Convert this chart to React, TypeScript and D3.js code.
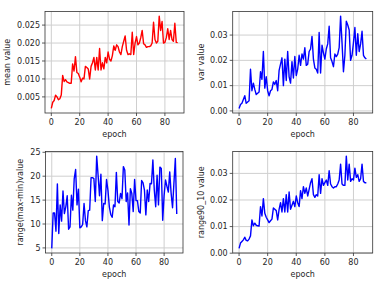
import React from 'react';
import * as d3 from 'd3';

// epochs 0..89
const epochs = d3.range(0, 90);

const meanValues = [
  0.0018, 0.0035, 0.004, 0.0055, 0.005, 0.0042, 0.0045, 0.0055, 0.011, 0.0093,
  0.0098, 0.0092, 0.009, 0.0088, 0.0088, 0.0142, 0.0122, 0.0162, 0.0118, 0.0115,
  0.0105, 0.0092, 0.0102, 0.01, 0.0135, 0.0132, 0.0128, 0.01, 0.0135, 0.0145,
  0.016, 0.0125, 0.016, 0.0125, 0.0185, 0.0125, 0.0145, 0.0128, 0.016, 0.0145,
  0.0175, 0.0155, 0.015, 0.0165, 0.0192, 0.018, 0.0195, 0.019, 0.0175, 0.0168,
  0.019, 0.0205, 0.022, 0.018, 0.0168, 0.017, 0.0168, 0.023, 0.0168, 0.02,
  0.0218, 0.0195, 0.02, 0.0215, 0.0235, 0.0198, 0.0195, 0.0188, 0.019, 0.019,
  0.0192, 0.02, 0.0258, 0.021, 0.02, 0.0205, 0.0275, 0.0235, 0.026, 0.02,
  0.0202, 0.0215, 0.024, 0.021, 0.0235, 0.021, 0.0205, 0.0255, 0.0202, 0.0201,
];

const varValues = [
  0.001, 0.0025, 0.003, 0.0045, 0.006, 0.003, 0.0035, 0.004, 0.0165, 0.008,
  0.011, 0.0085, 0.0065, 0.007, 0.0075, 0.0155, 0.0125, 0.0235, 0.009, 0.0135,
  0.008, 0.006, 0.008, 0.0085, 0.0115, 0.0105, 0.012, 0.008, 0.016, 0.0185,
  0.021, 0.01, 0.0205, 0.012, 0.0235, 0.0135, 0.011, 0.0195, 0.013, 0.0215,
  0.014, 0.0165, 0.022, 0.018, 0.0225, 0.0205, 0.025, 0.018, 0.0185, 0.0235,
  0.0245, 0.0295, 0.0205, 0.017, 0.0165, 0.015, 0.031, 0.015, 0.026, 0.023,
  0.0205, 0.0245, 0.0265, 0.0335, 0.021, 0.0195, 0.0175, 0.0225, 0.0215, 0.0225,
  0.025, 0.0375, 0.027, 0.0155, 0.022, 0.0355, 0.034, 0.032, 0.02, 0.022,
  0.027, 0.033, 0.022, 0.0305, 0.0235, 0.0265, 0.0315, 0.022, 0.021, 0.0205,
];

const rangeValues = [
  4.9, 12.3, 12.3, 8.5, 18.4, 8, 14, 10.6, 16.9, 12.2,
  13.6, 15.9, 8.9, 9.4, 16, 12.9, 19.5, 21.4, 14, 17.3,
  9.2, 9.4, 9.9, 14.3, 10.7, 9.4, 12.8, 12.9, 19.7, 19.7,
  19.5, 14.7, 24.2, 20.2, 15.9, 20.4, 10.7, 14.3, 14.2, 19.3,
  17.1, 13.6, 12, 11.4, 14, 13.6, 20.8, 14.7, 14.4, 16.4,
  15.3, 22, 21.3, 14.7, 16.5, 9.8, 17.4, 16.4, 12.6, 19.3,
  14.9, 14.9, 12.6, 12.3, 19.1, 18.6, 17.1, 11.9, 17.1, 14.7,
  18.5, 18.4, 23.4, 17.1, 13.6, 20.2, 14, 21.9, 21.6, 10.8,
  16, 19.2, 17.9, 16.7, 20.9, 16.4, 13.4, 18.6, 23.7, 12.1,
];

const range9010Values = [
  0.0018, 0.0038, 0.0044, 0.005, 0.006, 0.0048, 0.0046, 0.0053, 0.0065, 0.0125,
  0.0103, 0.0113, 0.0105, 0.0103, 0.0102, 0.0175, 0.014, 0.0205, 0.015, 0.0135,
  0.0125, 0.0115, 0.0122, 0.0128, 0.017, 0.0165, 0.016, 0.0125, 0.0165, 0.019,
  0.0155, 0.0205, 0.0155, 0.022, 0.0155, 0.023, 0.0165, 0.018, 0.0195, 0.0175,
  0.0215, 0.019, 0.0175, 0.0235, 0.0205, 0.025, 0.0225, 0.0245, 0.0215, 0.024,
  0.0265, 0.028, 0.022, 0.021, 0.022, 0.0215, 0.0295, 0.0225, 0.028, 0.0255,
  0.0265, 0.0275, 0.0255, 0.031, 0.026, 0.025, 0.0245, 0.025, 0.025, 0.026,
  0.0275, 0.0335, 0.026, 0.0255, 0.0255, 0.0365, 0.0275, 0.0335, 0.027, 0.028,
  0.0275, 0.032, 0.0285, 0.0295, 0.027, 0.028, 0.0335, 0.027, 0.0265, 0.0265,
];

const xTicks = [0, 20, 40, 60, 80];
const meanTicks = [0.005, 0.01, 0.015, 0.02, 0.025];
const varTicks = [0.0, 0.01, 0.02, 0.03];
const rangeTicks = [5, 10, 15, 20, 25];
const range9010Ticks = [0.0, 0.01, 0.02, 0.03];

const FONT = 'DejaVu Sans, sans-serif';
const TEXT = '#262626';

type PanelProps = {
  left: number;
  top: number;
  width: number;
  height: number;
  values: number[];
  yTicks: number[];
  yFormat: (v: number) => string;
  yLabel: string;
  yLabelX: number;
  color: string;
};

const Panel = ({ left, top, width, height, values, yTicks, yFormat, yLabel, yLabelX, color }: PanelProps) => {
  const x = d3.scaleLinear().domain([-4.45, 93.45]).range([0, width]);
  const [lo, hi] = d3.extent(values) as [number, number];
  const pad = (hi - lo) * 0.05;
  const y = d3.scaleLinear().domain([lo - pad, hi + pad]).range([height, 0]);
  const line = d3.line<number>()
    .x((_, i) => x(epochs[i]))
    .y(d => y(d));

  return (
    <g transform={`translate(${left},${top})`}>
      {xTicks.map(t => (
        <line key={'gx' + t} x1={x(t)} x2={x(t)} y1={0} y2={height} stroke="#cfcfcf" strokeWidth={1} />
      ))}
      {yTicks.map(t => (
        <line key={'gy' + t} x1={0} x2={width} y1={y(t)} y2={y(t)} stroke="#cfcfcf" strokeWidth={1} />
      ))}
      <path d={line(values) ?? ''} fill="none" stroke={color} strokeWidth={1.4} strokeLinejoin="round" />
      <rect x={0} y={0} width={width} height={height} fill="none" stroke="#333" strokeWidth={0.8} />
      {xTicks.map(t => (
        <g key={'tx' + t} transform={`translate(${x(t)},${height})`}>
          <line y1={0} y2={3} stroke="#333" strokeWidth={0.8} />
          <text y={12} textAnchor="middle" fontSize={8} fontFamily={FONT} fill={TEXT}>{t}</text>
        </g>
      ))}
      {yTicks.map(t => (
        <g key={'ty' + t} transform={`translate(0,${y(t)})`}>
          <line x1={-3} x2={0} stroke="#333" strokeWidth={0.8} />
          <text x={-5} dy="0.35em" textAnchor="end" fontSize={8} fontFamily={FONT} fill={TEXT}>{yFormat(t)}</text>
        </g>
      ))}
      <text x={width / 2} y={height + 24} textAnchor="middle" fontSize={8} fontFamily={FONT} fill={TEXT}>epoch</text>
      <text transform={`translate(${yLabelX},${height / 2}) rotate(-90)`} dy="0.35em" textAnchor="middle"
        fontSize={8} fontFamily={FONT} fill={TEXT}>{yLabel}</text>
    </g>
  );
};

const App = () => {
  return (
    <svg width={383} height={287} style={{ position: 'absolute', left: 0, top: 0, background: '#fff' }}>
      <Panel left={45} top={11.5} width={139} height={101.5} values={meanValues} yTicks={meanTicks}
        yFormat={d3.format('.3f')} yLabel="mean value" yLabelX={-38} color="#ff0000" />
      <Panel left={232.7} top={11.5} width={140} height={101.5} values={varValues} yTicks={varTicks}
        yFormat={d3.format('.2f')} yLabel="var value" yLabelX={-31.5} color="#0000ff" />
      <Panel left={45.5} top={151.5} width={137.5} height={101.5} values={rangeValues} yTicks={rangeTicks}
        yFormat={d3.format('d')} yLabel="range(max-min)value" yLabelX={-25} color="#0000ff" />
      <Panel left={232.7} top={151.5} width={140} height={101.5} values={range9010Values} yTicks={range9010Ticks}
        yFormat={d3.format('.2f')} yLabel="range90_10 value" yLabelX={-31.5} color="#0000ff" />
    </svg>
  );
};

export default App;
